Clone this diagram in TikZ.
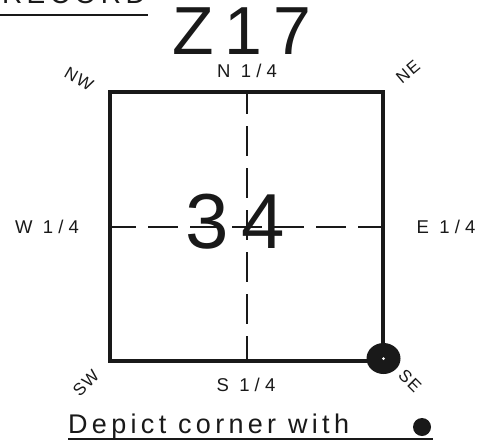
\documentclass[tikz,border=0pt]{standalone}
\usepackage{fontspec}
\setmainfont{Liberation Sans}
\newfontfamily\cadfont[LetterSpace=28]{Liberation Sans}
\newfontfamily\cornerfont[LetterSpace=8]{Liberation Sans}
\newfontfamily\bigcad[LetterSpace=16]{Liberation Sans}
\newfontfamily\handfont[LetterSpace=16]{Liberation Sans}
\begin{document}
\begin{tikzpicture}[x=1pt,y=-1pt,
  ink/.style={black!90},
  edge/.style={ink,line width=4pt},
  grid/.style={ink,line width=1.4pt,dash pattern=on 30pt off 12pt},
  qlabel/.style={ink,font=\fontsize{18.5}{18.5}\selectfont\cadfont,inner sep=0pt},
  clabel/.style={ink,font=\fontsize{17}{17}\selectfont\cornerfont,inner sep=0pt},
]
\useasboundingbox (0,0) rectangle (478,440);
% cut-off header
\node[ink,anchor=base east,font=\fontsize{28}{28}\selectfont\bigcad,inner sep=0pt] (hdr) at (146,3) {RECORD};
\coordinate (hl) at (0,14.5);
\coordinate (hr) at (148,14.5);
\draw[ink,line width=2pt] (hl) -- (hr);
% handwritten numbers
\node[ink,font=\fontsize{68}{68}\selectfont\handfont,inner sep=0pt] (twp) at (242,31) {Z17};
% square
\coordinate (nw) at (110,92);
\coordinate (ne) at (383,92);
\coordinate (se) at (383,361);
\coordinate (sw) at (110,361);
\coordinate (nq) at (247,92);
\coordinate (sq) at (247,361);
\coordinate (wq) at (110,227);
\coordinate (eq) at (383,227);
\draw[grid,dash phase=8pt] (nq) -- (sq);
\draw[grid,dash phase=4pt] (wq) -- (eq);
\node[ink,font=\fontsize{78}{78}\selectfont\handfont,inner sep=0pt] (sec) at (235,222) {34};
\draw[edge,line join=miter] (nw) -- (ne) -- (se) -- (sw) -- cycle;
\fill[ink] (383.5,358.5) ellipse [x radius=17pt,y radius=15.5pt] coordinate (sedot);
\fill[white] (sedot) circle (1.5pt);
% labels
\node[qlabel] (nl) at (247,71) {N 1/4};
\node[qlabel] (sl) at (246,385) {S 1/4};
\node[qlabel] (wl) at (47,227) {W 1/4};
\node[qlabel] (el) at (446,227) {E 1/4};
\node[clabel,rotate=-30] (nwl) at (79,79) {NW};
\node[clabel,rotate=40] (nel) at (408,72) {NE};
\node[clabel,rotate=45] (swl) at (86,383) {SW};
\node[clabel,rotate=-45] (sel) at (410,381) {SE};
% legend
\node[ink,anchor=base west,font=\fontsize{27}{27}\selectfont\bigcad,inner sep=0pt] (leg) at (68,433) {Depict corner with};
\fill[ink] (422,427) circle (9pt) coordinate (legdot);
\coordinate (ul) at (68,438.5);
\coordinate (ur) at (433,438.5);
\draw[ink,line width=2pt] (ul) -- (ur);
\end{tikzpicture}
\end{document}
